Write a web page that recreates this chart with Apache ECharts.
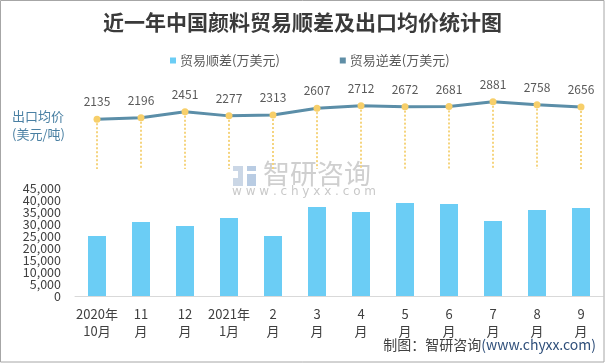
<!DOCTYPE html>
<html>
<head>
<meta charset="utf-8">
<script src="https://cdn.jsdelivr.net/npm/echarts@6/dist/echarts.min.js"></script>
<style>
html,body{margin:0;padding:0;background:#fff;}
#c{width:605px;height:363px;}
</style>
</head>
<body>
<div id="c"></div>
<script>
var categories = ['2020年\n10月','11\n月','12\n月','2021年\n1月','2\n月','3\n月','4\n月','5\n月','6\n月','7\n月','8\n月','9\n月'];
var surplus = [25000, 30800, 29200, 32500, 25000, 37100, 35000, 38800, 38300, 31300, 35800, 36700];
var deficit = [null, null, null, null, null, null, null, null, null, null, null, null];
var exportPrice = [2135, 2196, 2451, 2277, 2313, 2607, 2712, 2672, 2681, 2881, 2758, 2656];
var barTicks = [0, 5000, 10000, 15000, 20000, 25000, 30000, 35000, 40000, 45000];

var FONT = '"Noto Sans CJK SC", "Noto Sans", sans-serif';
var chart = echarts.init(document.getElementById('c'), null, {renderer: 'canvas'});

var dropLines = exportPrice.map(function (v, i) {
  return [{coord: [i, v]}, {coord: [i, 0]}];
});

var TICK_STEP = barTicks[1] - barTicks[0];
// Two overlaid label axes (alternating ticks) so every tick label of the dense axis stays visible.
function labelAxis(showEven) {
  return {
    type: 'value', gridIndex: 0, position: 'left',
    min: barTicks[0], max: barTicks[barTicks.length - 1], interval: TICK_STEP,
    axisLine: {show: false}, axisTick: {show: false}, splitLine: {show: false},
    axisLabel: {
      margin: 14, color: '#404040', fontSize: 12.5, fontFamily: FONT,
      showMinLabel: showEven, showMaxLabel: !showEven, hideOverlap: false,
      formatter: function (v) {
        var idx = Math.round((v - barTicks[0]) / TICK_STEP);
        var even = idx % 2 === 0;
        if (even !== showEven) return '';
        return v.toLocaleString('en-US');
      }
    }
  };
}

var option = {
  backgroundColor: '#fff',
  animation: false,
  textStyle: {fontFamily: FONT},
  title: {
    text: '近一年中国颜料贸易顺差及出口均价统计图',
    left: 'center',
    top: 7,
    textStyle: {fontFamily: FONT, fontSize: 21, fontWeight: 'bold', color: '#3a3a3a'}
  },
  legend: {
    data: ['贸易顺差(万美元)', '贸易逆差(万美元)'],
    top: 49,
    left: 165,
    icon: 'rect',
    itemWidth: 6,
    itemHeight: 6,
    itemGap: 60,
    textStyle: {fontFamily: FONT, fontSize: 13, color: '#595959', padding: [0, 0, 0, -1]}
  },
  grid: [
    {left: 75, right: 2, top: 188, bottom: 67},
    {left: 75, right: 2, top: 99, bottom: 194}
  ],
  xAxis: [
    {
      type: 'category', gridIndex: 0, data: categories,
      axisTick: {show: false},
      axisLine: {lineStyle: {color: '#d9d9d9', width: 1}},
      axisLabel: {color: '#404040', fontSize: 13, lineHeight: 17, margin: 10, interval: 0, fontFamily: FONT}
    },
    {
      type: 'category', gridIndex: 1, data: categories, show: false
    }
  ],
  yAxis: [
    labelAxis(true),
    {
      type: 'value', gridIndex: 1, min: 0, max: 3000, show: false, splitLine: {show: false}
    },
    labelAxis(false)
  ],
  series: [
    {
      name: '贸易顺差(万美元)', type: 'bar', xAxisIndex: 0, yAxisIndex: 0,
      data: surplus, barWidth: 18, stack: 'trade',
      itemStyle: {color: '#6bcdf5'}
    },
    {
      name: '贸易逆差(万美元)', type: 'bar', xAxisIndex: 0, yAxisIndex: 0,
      data: deficit, barWidth: 18, stack: 'trade',
      itemStyle: {color: '#5f8ea6'}
    },
    {
      name: '出口均价', type: 'line', xAxisIndex: 1, yAxisIndex: 1,
      data: exportPrice,
      symbol: 'circle', symbolSize: 7,
      itemStyle: {color: '#f7cf6a'},
      lineStyle: {color: '#5b8ea8', width: 3},
      z: 5,
      label: {show: true, position: 'top', distance: 8, color: '#595959', fontSize: 12, fontFamily: FONT},
      markLine: {
        silent: true, symbol: ['none', 'none'],
        label: {show: false},
        lineStyle: {color: '#f5d47e', type: 'dotted', width: 2},
        data: dropLines,
        z: 1
      }
    }
  ],
  graphic: [
    {
      type: 'rect', silent: true, z: 100,
      shape: {x: 0.5, y: 0.5, width: 603.5, height: 361.5},
      style: {fill: 'none', stroke: '#a6a6a6', lineWidth: 1}
    },
    {
      type: 'text', left: 12, top: 107, silent: true,
      style: {text: '出口均价\n(美元/吨)', fontSize: 13, lineHeight: 18, fill: '#4a80a3', fontFamily: FONT}
    },
    {
      type: 'text', right: 9, top: 338, silent: true,
      style: {
        text: '{a|制图：智研咨询}{b|(www.chyxx.com)}',
        rich: {
          a: {fontSize: 14, fill: '#404040', fontFamily: FONT},
          b: {fontSize: 14, fill: '#2f4f7a', fontFamily: FONT}
        }
      }
    },
    {
      type: 'group', silent: true, z: 0,
      children: [
        {type: 'rect', shape: {x: 233, y: 166, width: 10, height: 5}, style: {fill: '#cbd7e6'}},
        {type: 'rect', shape: {x: 238, y: 171, width: 5, height: 7}, style: {fill: '#cbd7e6'}},
        {type: 'rect', shape: {x: 233, y: 178, width: 10, height: 8}, style: {fill: '#cbd7e6'}},
        {type: 'rect', shape: {x: 247, y: 166, width: 9, height: 5}, style: {fill: '#b9cce3'}},
        {type: 'rect', shape: {x: 247, y: 174, width: 9, height: 12}, style: {fill: '#b9cce3'}},
        {type: 'text', left: 263, top: 160, style: {text: '智研咨询', fontSize: 27, fill: '#cfcfcf', fontFamily: FONT}},
        {type: 'text', left: 232, top: 186, style: {text: 'w w w . c h y x x . c o m', fontSize: 12, fill: '#c9c9c9', fontFamily: '"DejaVu Sans", sans-serif'}}
      ]
    }
  ]
};
chart.setOption(option);
</script>
</body>
</html>
